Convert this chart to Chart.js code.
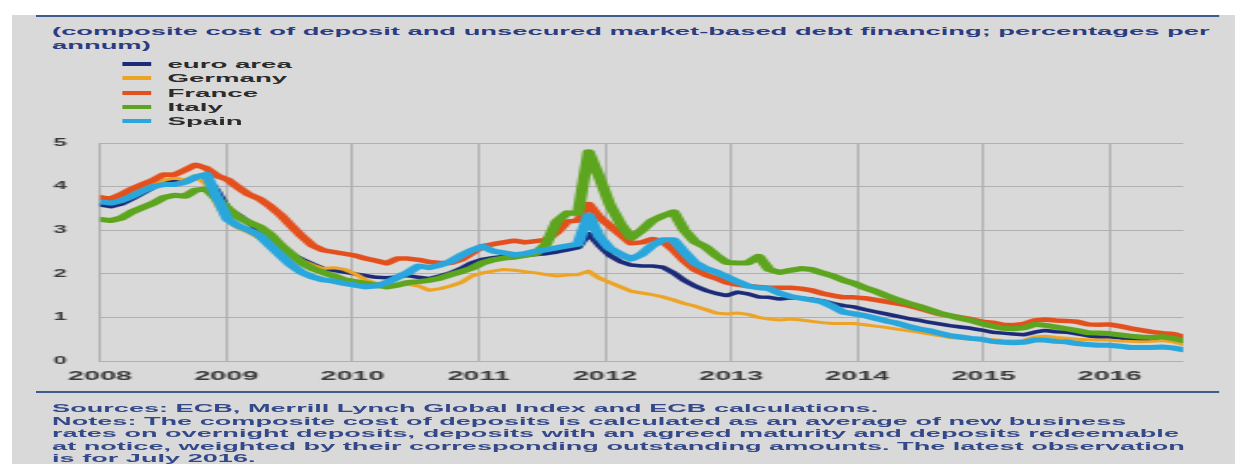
<!DOCTYPE html>
<html>
<head>
<meta charset="utf-8">
<script src="https://cdn.jsdelivr.net/npm/chart.js@4.4.1/dist/chart.umd.min.js"></script>
<style>
  html, body { margin:0; padding:0; background:#ffffff; }
  body { width:1235px; height:464px; overflow:hidden; position:relative; font-family:"Liberation Sans", Arial, sans-serif; }
  #stage { position:absolute; left:0; top:0; width:515px; height:464px; transform:scaleX(2.4); transform-origin:0 0; }
  .panel { position:absolute; left:5px; top:15px; width:510px; height:449px; background:#d9d9d9; }
  .rule { position:absolute; left:15px; width:493px; height:2px; background:#3f5b8c; }
  .title { position:absolute; left:21.7px; top:24px; font-size:11.4px; font-weight:bold; line-height:14px; color:#2b3c82; white-space:nowrap; }
  .legend { position:absolute; left:0; top:0; }
  .lg-row { position:absolute; height:14px; white-space:nowrap; }
  .lg-sw { position:absolute; left:0; top:5px; width:12.5px; height:4px; }
  .lg-tx { position:absolute; left:19px; top:0; font-size:11.5px; font-weight:bold; line-height:14px; color:#2b2b2b; }
  .foot { position:absolute; left:21.7px; top:402px; font-size:11.3px; font-weight:bold; line-height:12.6px; color:#34498a; white-space:nowrap; }
  #wrap { position:absolute; left:0; top:123px; width:515px; height:269px; }
</style>
</head>
<body>
<div id="stage">
  <div class="panel"></div>
  <div class="rule" style="top:14.5px"></div>
  <div class="title">(composite cost of deposit and unsecured market-based debt financing; percentages per<br>annum)</div>
  <div class="legend" id="legend"></div>
  <div id="wrap"><canvas id="c" width="515" height="269" style="width:515px;height:269px"></canvas></div>
  <div class="rule" style="top:391px"></div>
  <div class="foot">Sources: ECB, Merrill Lynch Global Index and ECB calculations.<br>Notes: The composite cost of deposits is calculated as an average of new business<br>rates on overnight deposits, deposits with an agreed maturity and deposits redeemable<br>at notice, weighted by their corresponding outstanding amounts. The latest observation<br>is for July 2016.</div>
</div>
<script>
// Monthly observations, January 2008 to July 2016 (103 months)
const yearLabels = ['2008','2009','2010','2011','2012','2013','2014','2015','2016'];
const seriesNames = ['euro area','Germany','France','Italy','Spain'];

const euroArea = [
  3.58,3.54,3.60,3.72,3.85,3.98,4.10,4.15,4.10,4.20,4.22,3.90,3.50,3.35,3.18,2.98,2.78,2.62,2.45,2.33,2.22,2.12,
  2.08,2.04,2.00,1.96,1.92,1.91,1.93,1.96,1.92,1.89,1.95,2.02,2.12,2.25,2.33,2.37,2.40,2.40,2.42,2.44,
  2.46,2.50,2.55,2.60,2.92,2.65,2.42,2.28,2.20,2.18,2.18,2.15,2.02,1.85,1.72,1.62,1.55,1.50,1.58,1.54,1.47,
  1.46,1.42,1.45,1.44,1.42,1.38,1.32,1.27,1.24,1.18,1.13,1.08,1.03,0.98,0.94,0.89,0.85,0.81,0.78,0.75,0.71,
  0.66,0.64,0.62,0.60,0.66,0.70,0.67,0.66,0.62,0.58,0.55,0.55,0.53,0.50,0.49,0.49,0.50,0.48,0.42
];
const germany = [
  3.78,3.70,3.75,3.85,3.95,4.05,4.15,4.20,4.15,4.25,4.05,3.60,3.22,3.05,2.95,2.82,2.70,2.55,2.42,2.30,2.20,2.12,
  2.14,2.10,2.00,1.86,1.78,1.74,1.74,1.76,1.72,1.62,1.66,1.72,1.80,1.95,2.02,2.06,2.10,2.08,2.05,2.02,
  1.98,1.95,1.97,1.98,2.06,1.90,1.80,1.70,1.60,1.56,1.52,1.47,1.40,1.32,1.26,1.18,1.10,1.08,1.10,1.07,1.00,
  0.96,0.94,0.96,0.94,0.91,0.88,0.86,0.86,0.86,0.83,0.80,0.77,0.73,0.70,0.66,0.62,0.58,0.54,0.52,0.50,0.50,
  0.49,0.47,0.46,0.47,0.55,0.57,0.54,0.52,0.50,0.49,0.48,0.48,0.46,0.45,0.44,0.45,0.47,0.44,0.38
];
const france = [
  3.75,3.72,3.82,3.95,4.05,4.15,4.28,4.27,4.38,4.50,4.42,4.25,4.16,3.98,3.82,3.72,3.55,3.35,3.10,2.86,2.65,2.54,
  2.50,2.46,2.42,2.35,2.30,2.24,2.35,2.35,2.32,2.27,2.25,2.25,2.33,2.48,2.63,2.68,2.72,2.76,2.72,2.75,
  2.78,2.95,3.20,3.22,3.60,3.30,3.10,2.90,2.70,2.72,2.80,2.74,2.55,2.30,2.10,1.98,1.90,1.80,
  1.75,1.72,1.70,1.68,1.68,1.68,1.66,1.62,1.55,1.50,1.46,1.46,1.44,1.40,1.36,1.32,1.28,1.22,1.15,1.08,1.04,1.00,0.96,0.90,
  0.88,0.83,0.82,0.85,0.93,0.95,0.93,0.92,0.90,0.84,0.83,0.84,0.80,0.75,0.71,0.67,0.64,0.62,0.55
];
const italy = [
  3.25,3.22,3.28,3.42,3.52,3.62,3.75,3.80,3.78,3.92,3.95,3.72,3.50,3.30,3.18,3.08,2.90,2.65,2.45,2.25,2.12,2.03,
  1.95,1.86,1.82,1.78,1.74,1.70,1.74,1.80,1.82,1.85,1.90,1.98,2.05,2.13,2.25,2.32,2.36,2.38,2.42,2.46,
  2.68,3.20,3.40,3.38,4.80,4.22,3.58,3.15,2.82,3.00,3.22,3.33,3.42,3.00,2.74,2.62,2.42,2.26,2.25,2.25,2.40,
  2.10,2.03,2.08,2.12,2.10,2.02,1.95,1.85,1.78,1.68,1.60,1.50,1.41,1.33,1.26,1.18,1.10,1.04,0.98,0.93,0.86,
  0.80,0.75,0.74,0.76,0.84,0.82,0.78,0.74,0.70,0.65,0.64,0.63,0.60,0.57,0.55,0.54,0.56,0.52,0.47
];
const spain = [
  3.65,3.62,3.68,3.78,3.90,4.00,4.05,4.05,4.10,4.22,4.28,3.75,3.25,3.10,3.00,2.88,2.65,2.42,2.20,2.03,1.93,1.86,
  1.83,1.78,1.74,1.70,1.72,1.80,1.92,2.03,2.18,2.14,2.20,2.28,2.42,2.54,2.63,2.52,2.48,2.44,2.46,2.52,
  2.55,2.60,2.64,2.68,3.35,2.85,2.58,2.45,2.34,2.45,2.65,2.78,2.78,2.50,2.25,2.12,2.04,1.93,1.82,1.72,1.68,
  1.66,1.55,1.48,1.44,1.40,1.36,1.25,1.12,1.08,1.04,0.98,0.92,0.87,0.80,0.74,0.70,0.64,0.58,0.55,0.52,0.50,
  0.45,0.43,0.42,0.43,0.48,0.48,0.45,0.44,0.40,0.38,0.36,0.36,0.34,0.31,0.31,0.31,0.32,0.30,0.26
];

const seriesValues = [euroArea, germany, france, italy, spain];
const seriesColors = ['#1b2b78', '#eda426', '#e4501d', '#5da51f', '#29a7dd'];
const seriesWidths = [3.5, 3, 4.5, 5, 5];

// legend (HTML text)
const legend = document.getElementById('legend');
seriesNames.forEach((name, k) => {
  const row = document.createElement('div');
  row.className = 'lg-row';
  row.style.left = '50.8px';
  row.style.top = (57 + k * 14.25) + 'px';
  const sw = document.createElement('div');
  sw.className = 'lg-sw';
  sw.style.background = seriesColors[k];
  const tx = document.createElement('div');
  tx.className = 'lg-tx';
  tx.textContent = name;
  row.appendChild(sw); row.appendChild(tx);
  legend.appendChild(row);
});

const gridColor = '#b0b0b0';
const tickColor = '#3a3a3a';
const fontFamily = '"Liberation Sans", Arial, sans-serif';

const datasets = seriesNames.map((name, k) => ({
  label: name,
  data: seriesValues[k].map((v, i) => ({ x: i, y: v })),
  xAxisID: 'xd',
  borderColor: seriesColors[k],
  backgroundColor: seriesColors[k],
  borderWidth: seriesWidths[k],
  pointRadius: 0,
  tension: 0,
  borderJoinStyle: 'round',
  borderCapStyle: 'round',
  order: seriesNames.length - k
}));

new Chart(document.getElementById('c'), {
  type: 'line',
  data: { datasets },
  options: {
    responsive: false,
    animation: false,
    devicePixelRatio: 1,
    layout: { padding: { left: 0, right: 22, top: 0, bottom: 0 } },
    plugins: { legend: { display: false }, tooltip: { enabled: false } },
    scales: {
      x: {
        type: 'linear', position: 'bottom', min: 0, max: 103,
        afterBuildTicks: (s) => { s.ticks = yearLabels.map((_, k) => ({ value: k * 12 })); },
        afterFit: (s) => { s.height = 31; },
        ticks: {
          autoSkip: false, maxRotation: 0, padding: 8, color: tickColor,
          font: { family: fontFamily, size: 12, weight: 'bold' },
          callback: (v, idx) => yearLabels[idx]
        },
        grid: { color: gridColor, lineWidth: 1, drawTicks: false },
        border: { display: false }
      },
      xd: { type: 'linear', axis: 'x', display: false, min: 0, max: 102 },
      y: {
        min: 0, max: 5,
        afterFit: (s) => { s.width = 41.7; },
        ticks: {
          stepSize: 1, padding: 14, color: tickColor,
          font: { family: fontFamily, size: 10, weight: 'bold' }
        },
        grid: { color: gridColor, lineWidth: 1, drawTicks: false },
        border: { display: true, color: gridColor, width: 1 }
      }
    }
  }
});
</script>
</body>
</html>
